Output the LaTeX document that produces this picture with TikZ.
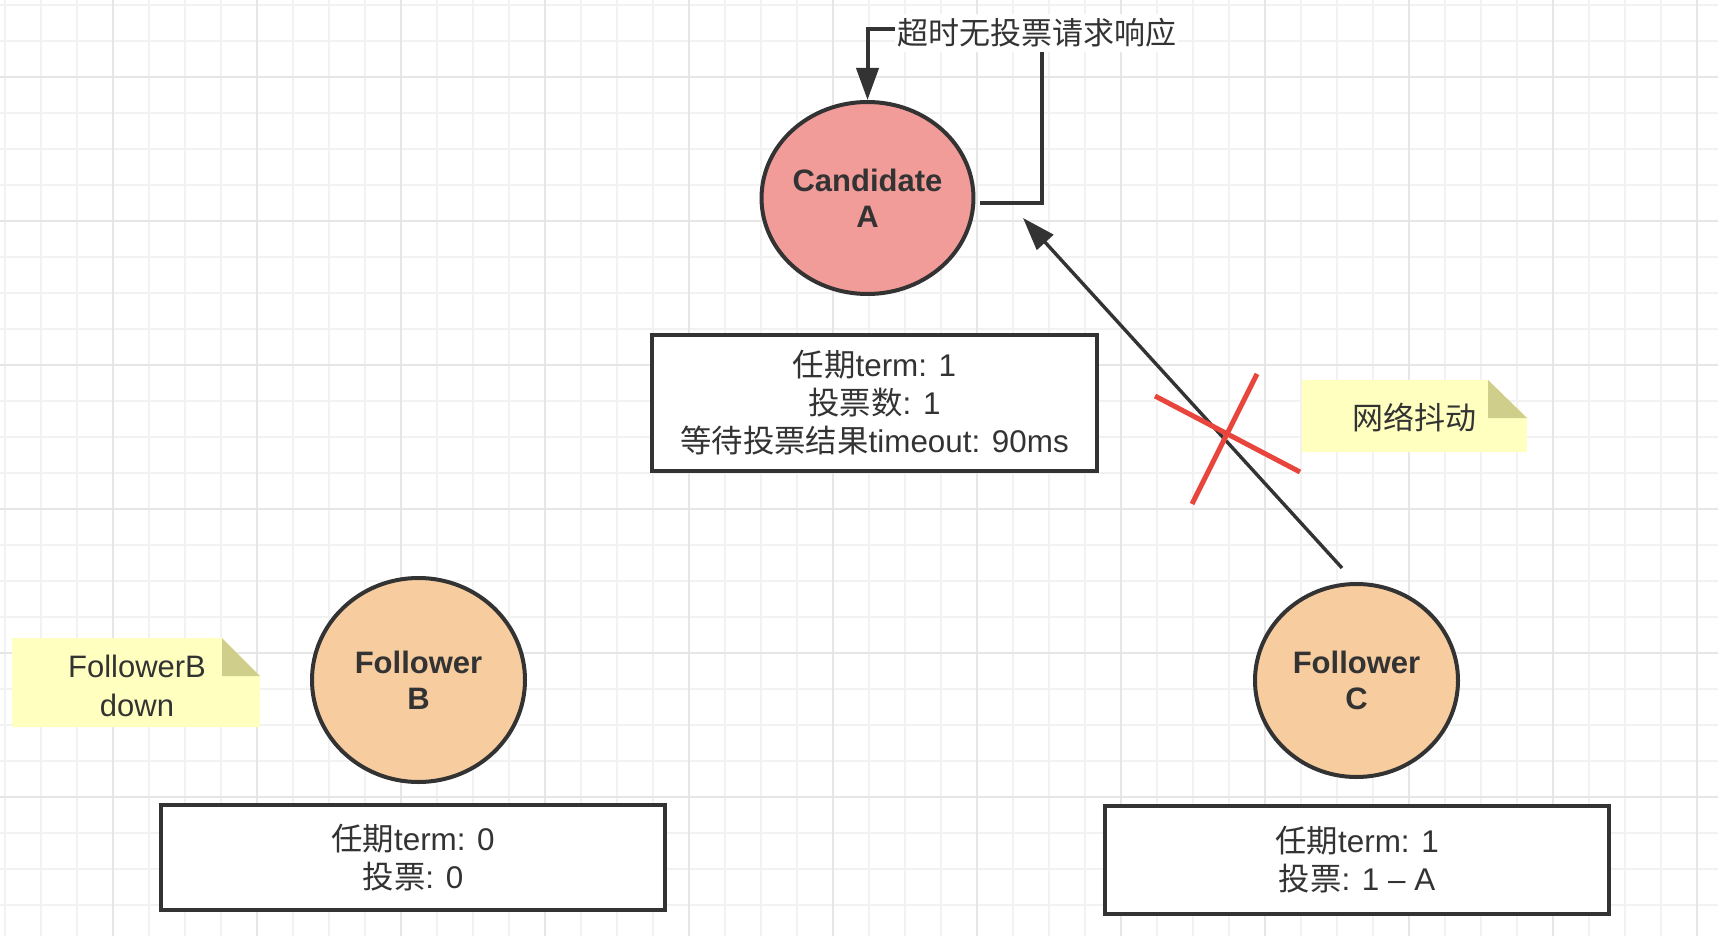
\documentclass[tikz,border=0pt]{standalone}
\usepackage{fontspec}
\setmainfont{Liberation Sans}
\newfontfamily\cjk{Noto Sans CJK SC}
\usetikzlibrary{arrows.meta,shapes.geometric}
\definecolor{ink}{HTML}{333333}
\definecolor{gridminor}{HTML}{F2F2F2}
\definecolor{gridmajor}{HTML}{E6E6E6}
\definecolor{candfill}{HTML}{F19C99}
\definecolor{follfill}{HTML}{F7CD9F}
\definecolor{notefill}{HTML}{FFFFC0}
\definecolor{notefold}{HTML}{CFCF8B}
\definecolor{crossred}{HTML}{E8453C}
\tikzset{
  stateball/.style={shape=ellipse, draw=ink, line width=2pt, inner sep=0pt,
    align=center, text=ink, font=\fontsize{15.5}{18}\selectfont\bfseries},
  infobox/.style={shape=rectangle, draw=ink, line width=2pt, fill=white, inner sep=0pt,
    align=center, text=ink, font=\fontsize{15.7}{19}\selectfont},
  notetext/.style={align=center, text=ink, inner sep=0pt, font=\fontsize{15.5}{19.5}\selectfont},
  flow/.style={draw=ink, line width=2pt, -{Triangle[length=16pt,width=11pt]}},
  crossline/.style={draw=crossred, line width=2.5pt},
}
\begin{document}
\begin{tikzpicture}[x=0.5pt,y=-0.5pt]
\useasboundingbox (0,0) rectangle (1718,936);
\fill[white] (0,0) rectangle (1718,936);
% grid
\foreach \g in {5,41,...,1718} {\draw[gridminor,line width=0.75pt] (\g,0) -- (\g,936);}
\foreach \g in {5,41,...,936} {\draw[gridminor,line width=0.75pt] (0,\g) -- (1718,\g);}
\foreach \g in {113,257,...,1718} {\draw[gridmajor,line width=1pt] (\g,0) -- (\g,936);}
\foreach \g in {77,221,...,936} {\draw[gridmajor,line width=1pt] (0,\g) -- (1718,\g);}

% nodes
\node[stateball, fill=candfill, minimum width=100pt, minimum height=96pt] (candA) at (867.5,198) {Candidate\\A};
\node[stateball, fill=follfill, minimum width=106.5pt, minimum height=102pt] (follB) at (418.5,680) {Follower\\B};
\node[stateball, fill=follfill, minimum width=101.5pt, minimum height=96.5pt] (follC) at (1356.5,680.5) {Follower\\C};

\node[infobox, minimum width=222.5pt, minimum height=68pt] (boxA) at (874.5,403)
  {{\cjk 任期}term: 1\\{\cjk 投票数}: 1\\{\cjk 等待投票结果}timeout: 90ms};
\node[infobox, minimum width=252pt, minimum height=52.5pt] (boxB) at (413,857.5)
  {{\cjk 任期}term: 0\\{\cjk 投票}: 0};
\node[infobox, minimum width=252pt, minimum height=54pt] (boxC) at (1357,860)
  {{\cjk 任期}term: 1\\{\cjk 投票}: 1 – A};

% notes
\fill[notefill] (12,638) -- (222,638) -- (260,676) -- (260,727) -- (12,727) -- cycle;
\fill[notefold] (222,638) -- (260,676) -- (222,676) -- cycle;
\node[notetext] (noteB) at (137,685.5) {FollowerB\\down};
\fill[notefill] (1302,380) -- (1488,380) -- (1527,418) -- (1527,452) -- (1302,452) -- cycle;
\fill[notefold] (1488,380) -- (1527,418) -- (1488,418) -- cycle;
\node[notetext] (noteC) at (1414,418) {\cjk 网络抖动};

% timeout loop
\coordinate (loopS) at (980,203);
\coordinate (loopR) at (1042,203);
\coordinate (loopT) at (1042,29);
\draw[flow] (loopS) -- (loopR) -- (loopT) -- (candA.north |- loopT) -- (candA.north);
\node[fill=white, inner xsep=1pt, inner ysep=0pt, minimum height=19pt, text=ink,
  font=\fontsize{15.5}{19}\selectfont\cjk] (loopLabel) at (1036.5,33) {超时无投票请求响应};

% vote request from C to A
\coordinate (cStart) at (1342,568);
\coordinate (aEnd) at (1023,218);
\draw[draw=ink, line width=1.7pt, -{Triangle[length=16.5pt,width=11pt]}] (cStart) -- (aEnd);

% red cross
\draw[crossline] (1155,396) -- (1300,472);
\draw[crossline] (1257,374) -- (1192,504);
\end{tikzpicture}
\end{document}
